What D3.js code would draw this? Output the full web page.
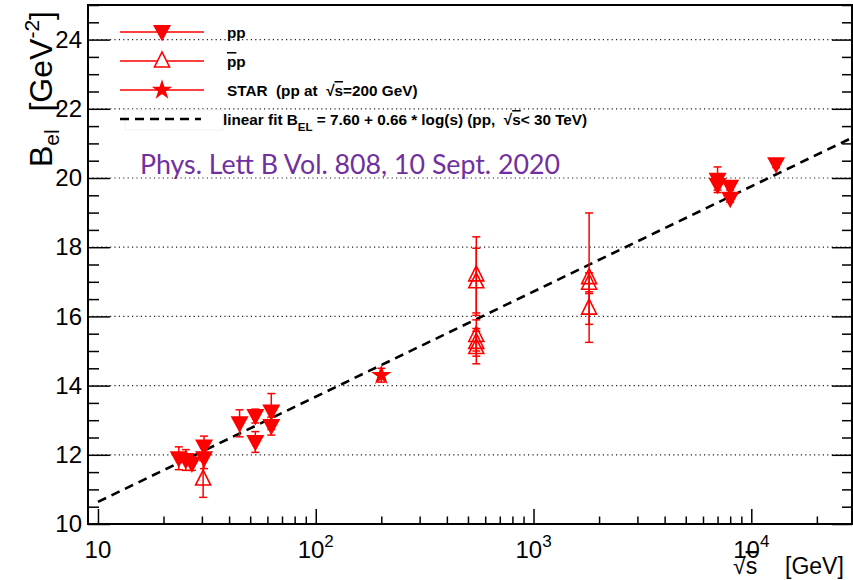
<!DOCTYPE html>
<html>
<head>
<meta charset="utf-8">
<script src="https://cdn.jsdelivr.net/npm/d3@7"></script>
<style>
  body { margin: 0; background: #fff; }
  svg { display: block; font-family: "Liberation Sans", Arial, sans-serif; }
  .grid line { stroke: #222; stroke-width: 1.2; stroke-dasharray: 1.2,3.2; }
  .axis path { display: none; }
  .axis line { stroke: #000; stroke-width: 1.5; }
  .axis text { font-size: 24px; fill: #000; font-family: "Liberation Sans", Arial, sans-serif; }
  .leg { font-size: 15.3px; font-weight: bold; }
</style>
</head>
<body>
<script>
// pp (filled down triangles)
const ppEnergy = [23.5, 25.3, 27.0, 30.7, 30.7, 44.7, 52.8, 52.8, 62.5, 62.5, 7000, 7000, 8000, 8000, 13000];
const ppB      = [11.9, 11.85, 11.75, 12.24, 11.9, 12.91, 13.12, 12.37, 13.25, 12.83, 19.95, 19.8, 19.75, 19.4, 20.4];
const ppErr    = [0.33, 0.3, 0.2, 0.3, 0.3, 0.39, 0.2, 0.3, 0.52, 0.26, 0.37, 0.15, 0.1, 0.1, 0.1];

// pbar-p (open up triangles)
const pbarpEnergy = [30.4, 546, 546, 546, 546, 546, 1800, 1800, 1800];
const pbarpB      = [11.3, 17.2, 17.0, 15.45, 15.25, 15.1, 17.12, 16.96, 16.24];
const pbarpErr    = [0.53, 1.1, 0.97, 0.45, 0.4, 0.47, 1.87, 0.3, 0.47];

// STAR
const starEnergy = [200];
const starB      = [14.3];
const starErr    = [0.2];

// linear fit B = 7.60 + 0.66 * ln(s), s = sqrt(s)^2
const fitA = 7.60, fitSlope = 0.66;
const fitEnergies = [10, 29000];

const yLabels = [10, 12, 14, 16, 18, 20, 22, 24];
const xDecades = [1, 2, 3, 4];

const width = 853, height = 580;
const svg = d3.select("body").append("svg")
    .attr("width", width)
    .attr("height", height);

const x = d3.scaleLog().domain([9, 29000]).range([88, 852]);
const y = d3.scaleLinear().domain([10, 25]).range([524, 5]);

// grid
svg.append("g").classed("grid", true)
    .selectAll("line")
    .data(yLabels.slice(1))
    .enter().append("line")
    .attr("x1", x.range()[0]).attr("x2", x.range()[1])
    .attr("y1", d => y(d)).attr("y2", d => y(d));

// y axis ticks
const yMinor = d3.range(10, 25.01, 0.5).filter(v => yLabels.indexOf(v) < 0);

svg.append("g").classed("axis", true)
    .attr("transform", `translate(${x.range()[0]},0)`)
    .call(d3.axisLeft(y).tickValues(yMinor).tickSize(-11).tickFormat(""));
svg.append("g").classed("axis", true)
    .attr("transform", `translate(${x.range()[0]},0)`)
    .call(d3.axisLeft(y).tickValues(yLabels).tickSize(-22).tickPadding(6).tickFormat(d3.format("d")));

// right side ticks
svg.append("g").classed("axis", true)
    .attr("transform", `translate(${x.range()[1]},0)`)
    .call(d3.axisRight(y).tickValues(yMinor).tickSize(-10).tickFormat(""));
svg.append("g").classed("axis", true)
    .attr("transform", `translate(${x.range()[1]},0)`)
    .call(d3.axisRight(y).tickValues(yLabels).tickSize(-20).tickFormat(""));

// x axis ticks
const xMinor = [];
[10, 100, 1000, 10000].forEach(dec => {
    for (let k = 2; k <= 9; k++) {
        if (dec * k <= 29000) xMinor.push(dec * k);
    }
});
const xMajor = xDecades.map(p => Math.pow(10, p));

svg.append("g").classed("axis", true)
    .attr("transform", `translate(0,${y.range()[0]})`)
    .call(d3.axisBottom(x).tickValues(xMinor).tickSize(-7.5).tickFormat(""));
svg.append("g").classed("axis", true)
    .attr("transform", `translate(0,${y.range()[0]})`)
    .call(d3.axisBottom(x).tickValues(xMajor).tickSize(-15).tickFormat(""));

// x labels: 10, 10^2 ...
const xl = svg.append("g").classed("axis", true);
xDecades.forEach(p => {
    const t = xl.append("text")
        .attr("x", x(Math.pow(10, p)))
        .attr("y", 558)
        .attr("text-anchor", "middle");
    t.append("tspan").text("10");
    if (p > 1) {
        t.append("tspan").attr("dy", -11).attr("font-size", 17).text(p);
    }
});

// frame
svg.append("rect")
    .attr("x", x.range()[0]).attr("y", y.range()[1])
    .attr("width", x.range()[1] - x.range()[0])
    .attr("height", y.range()[0] - y.range()[1])
    .attr("fill", "none")
    .attr("stroke", "#000")
    .attr("stroke-width", 2);

// axis titles
const yt = svg.append("text")
    .attr("transform", "translate(52,167) rotate(-90)")
    .attr("font-size", 32);
yt.append("tspan").text("B");
yt.append("tspan").attr("dy", 7).attr("font-size", 21).text("el");
yt.append("tspan").attr("dy", -7).text("\u00a0\u00a0[GeV");
yt.append("tspan").attr("dy", -13).attr("font-size", 21).text("-2");
yt.append("tspan").attr("dy", 13).text("]");

const xt = svg.append("text")
    .attr("x", 733).attr("y", 574)
    .attr("font-size", 23);
xt.append("tspan").text("\u221a");
xt.append("tspan").attr("text-decoration", "overline").text("s");
svg.append("text")
    .attr("x", 785).attr("y", 574)
    .attr("font-size", 23)
    .text("[GeV]");

// fit line
const fitLine = d3.line()
    .x(d => x(d))
    .y(d => y(fitA + fitSlope * Math.log(d * d)));

svg.append("path")
    .datum(fitEnergies)
    .attr("fill", "none")
    .attr("stroke", "#000")
    .attr("stroke-width", 2.6)
    .attr("stroke-dasharray", "9,6")
    .attr("d", fitLine);

// markers
const triDown = d3.symbol().type({
    draw(ctx) {
        ctx.moveTo(-9, -7); ctx.lineTo(9, -7); ctx.lineTo(0, 9.5); ctx.closePath();
    }
});
const triUp = d3.symbol().type({
    draw(ctx) {
        ctx.moveTo(-7.5, 6); ctx.lineTo(7.5, 6); ctx.lineTo(0, -9); ctx.closePath();
    }
});
const star = d3.symbol().type(d3.symbolStar).size(130);

function drawErrors(g, es, bs, errs) {
    es.forEach((e, i) => {
        const cx = x(e);
        const y1 = y(bs[i] + errs[i]);
        const y2 = y(bs[i] - errs[i]);
        g.append("line").attr("x1", cx).attr("x2", cx).attr("y1", y1).attr("y2", y2);
        g.append("line").attr("x1", cx - 4).attr("x2", cx + 4).attr("y1", y1).attr("y2", y1);
        g.append("line").attr("x1", cx - 4).attr("x2", cx + 4).attr("y1", y2).attr("y2", y2);
    });
}

const errG = svg.append("g").attr("stroke", "#ff0000").attr("stroke-width", 1.5);
drawErrors(errG, ppEnergy, ppB, ppErr);
drawErrors(errG, pbarpEnergy, pbarpB, pbarpErr);
drawErrors(errG, starEnergy, starB, starErr);

svg.append("g").selectAll("path")
    .data(ppEnergy)
    .enter().append("path")
    .attr("d", triDown())
    .attr("transform", (d, i) => `translate(${x(d)},${y(ppB[i])})`)
    .style("fill", "#ff0000");

svg.append("g").selectAll("path")
    .data(pbarpEnergy)
    .enter().append("path")
    .attr("d", triUp())
    .attr("transform", (d, i) => `translate(${x(d)},${y(pbarpB[i])})`)
    .style("fill", "none")
    .style("stroke", "#ff0000")
    .style("stroke-width", 1.6);

svg.append("g").selectAll("path")
    .data(starEnergy)
    .enter().append("path")
    .attr("d", star())
    .attr("transform", (d, i) => `translate(${x(d)},${y(starB[i])})`)
    .style("fill", "#ff0000");

// legend
const legRows = [32, 61, 90, 119];
const leg = svg.append("g");

leg.append("rect")
    .attr("x", 125).attr("y", 110).attr("width", 98).attr("height", 20)
    .attr("fill", "none").attr("stroke", "#f0f0f0");

legRows.slice(0, 3).forEach(ry => {
    leg.append("line")
        .attr("x1", 120).attr("x2", 204)
        .attr("y1", ry).attr("y2", ry)
        .attr("stroke", "#ff0000").attr("stroke-width", 1.5);
});
leg.append("path").attr("d", triDown()).attr("transform", `translate(162,${legRows[0]})`).style("fill", "#ff0000");
leg.append("path").attr("d", triUp()).attr("transform", `translate(162,${legRows[1]})`)
    .style("fill", "#fff").style("stroke", "#ff0000").style("stroke-width", 1.6);
leg.append("path").attr("d", star()).attr("transform", `translate(162,${legRows[2]})`).style("fill", "#ff0000");
leg.append("line")
    .attr("x1", 120).attr("x2", 201)
    .attr("y1", legRows[3]).attr("y2", legRows[3])
    .attr("stroke", "#000").attr("stroke-width", 2.6)
    .attr("stroke-dasharray", "9,6");

leg.append("text").classed("leg", true).attr("x", 227).attr("y", legRows[0] + 6).text("pp");
const t2 = leg.append("text").classed("leg", true).attr("x", 227).attr("y", legRows[1] + 6);
t2.append("tspan").attr("text-decoration", "overline").text("p");
t2.append("tspan").text("p");
const t3 = leg.append("text").classed("leg", true).attr("x", 227).attr("y", legRows[2] + 6);
t3.append("tspan").text("STAR\u00a0 (pp at \u00a0\u221a");
t3.append("tspan").attr("text-decoration", "overline").text("s");
t3.append("tspan").text("=200 GeV)");
const t4 = leg.append("text").classed("leg", true).attr("x", 223).attr("y", legRows[3] + 6);
t4.append("tspan").text("linear fit B");
t4.append("tspan").attr("dy", 6).attr("font-size", 11.5).text("EL");
t4.append("tspan").attr("dy", -6).text(" = 7.60 + 0.66 * log(s) (pp, \u00a0\u221a");
t4.append("tspan").attr("text-decoration", "overline").text("s");
t4.append("tspan").text("< 30 TeV)");

// annotation
svg.append("text")
    .attr("x", 140).attr("y", 174)
    .attr("font-family", "Lato, 'Open Sans', sans-serif")
    .attr("font-size", 26)
    .attr("fill", "#7030a0")
    .attr("textLength", 420)
    .attr("lengthAdjust", "spacingAndGlyphs")
    .text("Phys. Lett B Vol. 808, 10 Sept. 2020");
</script>
</body>
</html>
